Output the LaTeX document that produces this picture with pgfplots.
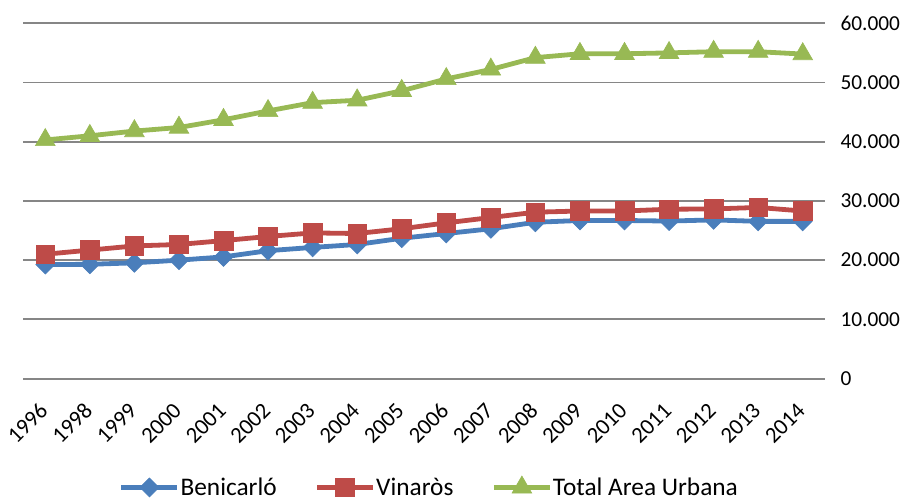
\documentclass[border=0pt]{standalone}
\usepackage{pgfplots}
\pgfplotsset{compat=1.18}
\usepackage{fontspec}
\setmainfont{Carlito}
\definecolor{cblue}{RGB}{74,126,187}
\definecolor{cred}{RGB}{190,75,72}
\definecolor{cgreen}{RGB}{152,185,84}
\definecolor{cgrid}{RGB}{134,134,134}
\begin{document}
\begin{tikzpicture}
\path[use as bounding box] (0,0) rectangle (677.25pt,375pt);
\begin{axis}[
  at={(17.25pt,91.05pt)}, anchor=south west,
  scale only axis, width=601.5pt, height=266.5pt,
  xmin=-0.5, xmax=17.5, ymin=0, ymax=60000,
  xtick={0,...,17},
  xticklabels={1996,1998,1999,2000,2001,2002,2003,2004,2005,2006,2007,2008,2009,2010,2011,2012,2013,2014},
  ytick={0,10000,20000,30000,40000,50000,60000},
  yticklabel pos=right,
  axis line style={draw=none},
  major tick length=0pt,
  ymajorgrids, grid style={cgrid, line width=1.4pt},
  /pgf/number format/.cd, 1000 sep={.}, assume math mode=true,
  /pgfplots/.cd,
  scaled y ticks=false,
  yticklabel style={anchor=west, inner sep=0pt, xshift=11.5pt, font=\fontsize{16}{19}\selectfont},
  xticklabel style={yshift=-21pt, xshift=-1pt, rotate=45, anchor=east, inner sep=0pt, font=\fontsize{17}{20}\selectfont},
  legend style={at={(0.506,-0.305)}, anchor=center, draw=none, fill=none,
    legend columns=-1, inner sep=0pt,
    nodes={inner sep=0.5pt, font=\fontsize{19}{23}\selectfont},
    /tikz/every even column/.append style={column sep=28pt}},
  legend image code/.code={\draw[mark repeat=2,mark phase=2,#1] plot coordinates {(0pt,0pt)(21pt,0pt)(42pt,0pt)};},
  every axis plot/.append style={line width=3.6pt},
]
\addplot[cblue, mark=square*, mark size=5pt, mark options={rotate=45, line width=0.5pt}] coordinates {
(0,19250)(1,19300)(2,19550)(3,20000)(4,20550)(5,21600)(6,22150)(7,22650)(8,23700)(9,24500)(10,25300)(11,26400)(12,26700)(13,26700)(14,26600)(15,26800)(16,26550)(17,26550)};
\addlegendentry{Benicarló}
\addplot[cred, mark=square*, mark size=7pt, mark options={line width=0.5pt}] coordinates {
(0,21000)(1,21700)(2,22400)(3,22650)(4,23300)(5,24000)(6,24600)(7,24500)(8,25300)(9,26300)(10,27200)(11,28100)(12,28300)(13,28300)(14,28600)(15,28650)(16,28900)(17,28300)};
\addlegendentry{Vinaròs}
\addplot[cgreen, mark=triangle*, mark size=8.5pt, mark options={line width=0.5pt}] coordinates {
(0,40300)(1,41000)(2,41800)(3,42400)(4,43700)(5,45200)(6,46600)(7,47000)(8,48600)(9,50600)(10,52200)(11,54200)(12,54850)(13,54850)(14,55000)(15,55200)(16,55200)(17,54800)};
\addlegendentry{Total Area Urbana}
\end{axis}
\end{tikzpicture}
\end{document}
